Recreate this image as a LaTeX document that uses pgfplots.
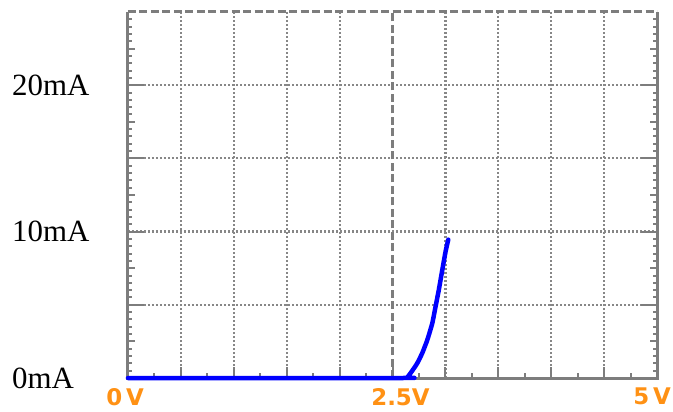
\documentclass[border=0pt]{standalone}
\usepackage{fontspec}
\setmainfont{Liberation Serif}
\newfontfamily\xfont{DejaVu Sans}
\usepackage{pgfplots}
\pgfplotsset{compat=1.18}
\definecolor{fr}{RGB}{125,125,125}
\definecolor{gr}{RGB}{135,135,135}
\definecolor{orng}{RGB}{255,145,20}
\newcommand\ytk[2]{\draw[fr,line width=2bp] (axis cs:0,#1) -- ++(#2,0pt); \draw[fr,line width=2bp] (axis cs:5,#1) -- ++(-#2,0pt);}
\newcommand\xtk[2]{\draw[fr,line width=2bp] (axis cs:#1,0) -- ++(0pt,#2);}
\begin{document}
\begin{tikzpicture}
\begin{axis}[
 at={(0,0)}, anchor=south west, scale only axis, width=529bp, height=366bp,
 xmin=0, xmax=5, ymin=0, ymax=25,
 axis line style={draw=none},
 tick style={draw=none},
 major tick length=0pt,
 xtick={0,2.5,5},
 xticklabels={\kern-6bp 0\,V,\kern16bp 2.5V,\kern-10bp 5\,V},
 xticklabel style={anchor=north, inner sep=0pt, yshift=-10bp, font=\xfont\bfseries\fontsize{23}{23}\selectfont, text=orng},
 ytick={0,10,20},
 yticklabels={0mA,10mA,20mA},
 yticklabel style={anchor=west, inner sep=0pt, xshift=-116bp, font=\fontsize{31}{31}\selectfont},
 clip=false,
]
% grid
\pgfplotsinvokeforeach{0.5,1,1.5,2,3,3.5,4,4.5}{
  \draw[gr, line width=2.2bp, dash pattern=on 2bp off 2bp] (axis cs:#1,0) -- (axis cs:#1,25);
}
\pgfplotsinvokeforeach{5,10,15,20}{
  \draw[gr, line width=2.2bp, dash pattern=on 2bp off 2bp] (axis cs:0,#1) -- (axis cs:5,#1);
}
\draw[fr, line width=2.6bp, dash pattern=on 8bp off 3.5bp] (axis cs:2.5,0) -- (axis cs:2.5,25);
% frame
\draw[fr, line width=3bp, dash pattern=on 8bp off 3.5bp] (axis cs:0,25) -- (axis cs:5,25);
\draw[fr, line width=3bp] (axis cs:0,25) -- (axis cs:0,0) -- (axis cs:5,0) -- (axis cs:5,25);
% ticks
\pgfplotsinvokeforeach{0.5,1,1.5,2,3,3.5,4,4.5,5.5,6,6.5,7,8,8.5,9,9.5,10.5,11,11.5,12,13,13.5,14,14.5,15.5,16,16.5,17,18,18.5,19,19.5,20.5,21,21.5,22,23,23.5,24,24.5}{\ytk{#1}{4bp}}
\pgfplotsinvokeforeach{2.5,7.5,12.5,17.5,22.5}{\ytk{#1}{7.5bp}}
\pgfplotsinvokeforeach{5,10,15,20}{\ytk{#1}{16bp}}
\pgfplotsinvokeforeach{0.5,1,1.5,2,2.5,3,3.5,4,4.5}{\xtk{#1}{11bp}}
\pgfplotsinvokeforeach{0.25,0.75,1.25,1.75,2.25,2.75,3.25,3.75,4.25,4.75}{\xtk{#1}{5bp}}
% data
\addplot[blue, line width=4.5bp, line join=round, line cap=round, smooth, tension=0.3] coordinates {
 (0,0) (2.60,0) (2.64,0.05) (2.687,0.50) (2.734,1.01) (2.781,1.70) (2.829,2.60)
 (2.876,3.74) (2.907,4.88) (2.938,6.03) (2.971,7.40) (3.002,8.65) (3.027,9.45)
};
\end{axis}
\pgfresetboundingbox
\useasboundingbox (-128bp,-34bp) rectangle (545bp,378bp);
\end{tikzpicture}
\end{document}
